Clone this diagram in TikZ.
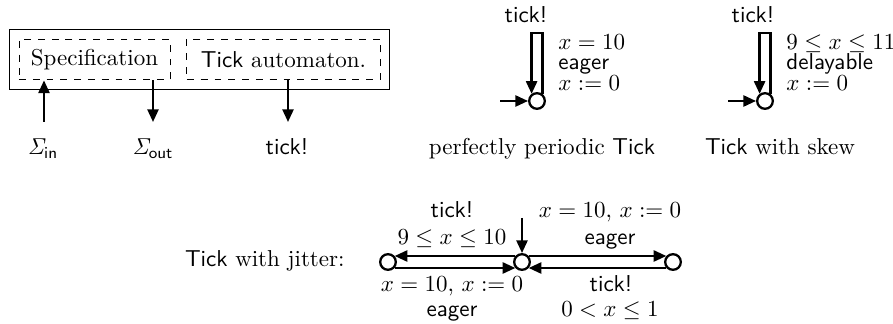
\documentclass[tikz,border=0pt]{standalone}
\usepackage{amsmath}
\usepackage{amssymb}
\usetikzlibrary{arrows.meta, positioning, fit}

\tikzset{
  state/.style={circle, draw, line width=1pt, minimum size=6.8pt, inner sep=0pt},
  trans/.style={line width=1pt, -{Triangle[length=5.5pt, width=4.8pt]}},
  compbox/.style={draw, dashed, minimum height=17.8pt},
  lbl/.style={inner sep=0pt, anchor=base},
  lblw/.style={inner sep=0pt, anchor=base west},
}

\begin{document}
\begin{tikzpicture}[x=0.435pt, y=-0.435pt]
  \useasboundingbox (0,0) rectangle (893,324);

  % components
  \node[compbox, minimum width=65.7pt] (spec) at (94.5,59.5) {Specification};
  \node[compbox, minimum width=84pt] (tickaut) at (283.5,59.5) {\textsf{Tick} automaton.};
  \node[draw, fit=(spec)(tickaut), inner sep=3.8pt] (arch) {};
  \coordinate (inlo) at (44,122);
  \coordinate (outlo) at (153,122);
  \coordinate (ticklo) at (288,122);
  \draw[trans] (inlo) -- (inlo |- spec.south);
  \draw[trans] (outlo |- spec.south) -- (outlo);
  \draw[trans] (ticklo |- tickaut.south) -- (ticklo);
  \node[lbl] (sigin) at (43,155) {$\mathit{\Sigma}_{\mathsf{in}}$};
  \node[lbl] (sigout) at (153,155) {$\mathit{\Sigma}_{\mathsf{out}}$};
  \node[lbl] (tickout) at (287,155) {\textsf{tick!}};

  % perfectly periodic
  \node[state] (per) at (537,101) {};
  \coordinate (pertop) at (537,33);
  \coordinate (perin) at (500,101);
  \draw[trans] (per.53) -- (per.53 |- pertop) -- (per.127 |- pertop) -- (per.127);
  \draw[trans] (perin) -- (per.west);
  \node[lbl] (pertick) at (526,23) {\textsf{tick!}};
  \node[lblw] (perguard) at (558,50) {$x=10$};
  \node[lblw] (perurg) at (558,70) {\textsf{eager}};
  \node[lblw] (perreset) at (558,91) {$x:=0$};
  \node[lbl] (percap) at (542,155) {perfectly periodic \textsf{Tick}};

  % skew
  \node[state] (skw) at (765,101) {};
  \coordinate (skwtop) at (765,33);
  \coordinate (skwin) at (728,101);
  \draw[trans] (skw.53) -- (skw.53 |- skwtop) -- (skw.127 |- skwtop) -- (skw.127);
  \draw[trans] (skwin) -- (skw.west);
  \node[lbl] (skwtick) at (753,23) {\textsf{tick!}};
  \node[lblw] (skwguard) at (786,50) {$9\leq x\leq 11$};
  \node[lblw] (skwurg) at (786,70) {\textsf{delayable}};
  \node[lblw] (skwreset) at (786,91) {$x:=0$};
  \node[lbl] (skwcap) at (780,155) {\textsf{Tick} with skew};

  % jitter
  \node[inner sep=0pt, anchor=base east] (jitcap) at (345,267) {\textsf{Tick} with jitter:};
  \node[state] (jl) at (388,262) {};
  \node[state] (jm) at (522,262) {};
  \node[state] (jr) at (673,262) {};
  \coordinate (jin) at (522,218);
  \draw[trans] (jin) -- (jm.north);
  \draw[trans] (jm.138) -- (jl.42);
  \draw[trans] (jl.318) -- (jm.222);
  \draw[trans] (jm.42) -- (jr.138);
  \draw[trans] (jr.222) -- (jm.318);
  \node[lbl] (jltick) at (452,218) {\textsf{tick!}};
  \node[lbl] (jlguard) at (452,245) {$9\leq x\leq 10$};
  \node[lbl] (jlreset) at (452,292) {$x=10,\,x:=0$};
  \node[lbl] (jlurg) at (452,317) {\textsf{eager}};
  \node[lbl] (jrreset) at (610,218) {$x=10,\,x:=0$};
  \node[lbl] (jrurg) at (610,245) {\textsf{eager}};
  \node[lbl] (jrtick) at (611,292) {\textsf{tick!}};
  \node[lbl] (jrguard) at (610,317) {$0<x\leq 1$};
\end{tikzpicture}
\end{document}
